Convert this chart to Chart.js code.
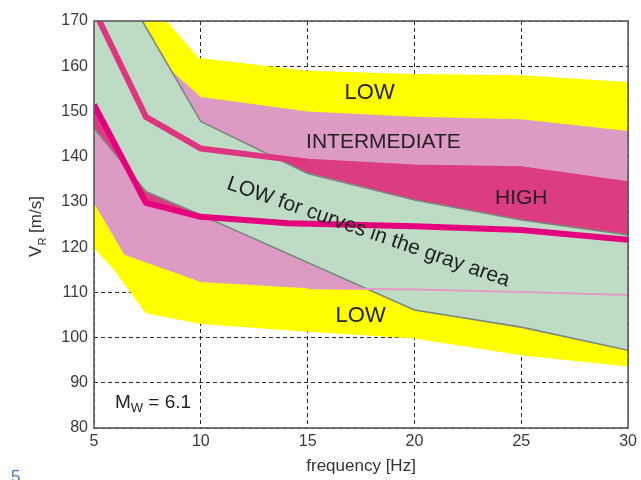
<!DOCTYPE html>
<html><head><meta charset="utf-8">
<script src="https://cdn.jsdelivr.net/npm/chart.js@4.4.1/dist/chart.umd.min.js"></script>
<style>html,body{margin:0;padding:0;background:#fff}canvas{display:block}</style>
</head><body>
<canvas id="c" width="641" height="480"></canvas>
<script>
// ---- data (frequency [Hz], V_R [m/s]) ----
const xTicks = [5, 10, 15, 20, 25, 30];
const yTicks = [80, 90, 100, 110, 120, 130, 140, 150, 160, 170];
const lowTopEdge      = [[5,188.6],[8.4,170],[9.9,161.8],[15,159],[20,158.3],[25,158],[30,156.5]];
const lowBottomEdge   = [[5,119.8],[5.95,114.9],[7.43,105.4],[10,103],[15,101.3],[20,99.8],[25,96.1],[30,93.6]];
const interTopEdge    = [[5,174],[8.5,159.5],[10,153.2],[15,150],[20,148.8],[25,148.3],[30,145.7]];
const interBottomEdge = [[5,129.7],[6.42,118.3],[10,112.3],[15,110.9],[20,110.6],[25,110.1],[30,109.4]];
const highCurve       = [[5,172.5],[7.43,148.8],[10,141.8],[14.1,139.4],[15,138.9],[20,137.6],[25,137.2],[30,133.9]];
const lowCurve        = [[5,151.5],[7.43,129.8],[10,126.7],[14.1,125.3],[20,124.6],[25,123.8],[30,121.6]];
const grayUpper       = [[5,188.3],[7.26,170],[10,147.8],[15,136.3],[20,130.4],[25,126],[30,122.7]];
const grayLower       = [[5,146.3],[7.43,132.3],[10,127.1],[15,116.6],[20,106.1],[25,102.3],[30,97.2]];

const FONT = '"Liberation Sans", Arial, Helvetica, sans-serif';
const C = {
  yellow: '#ffff00', pink: '#dd9bc4', high: '#dc3c80', green: '#bedcc5',
  gray: '#7d8882', curveHigh: '#df3580', curveLow: '#e5007e', thinPink: '#e39ac6'
};
const pts = a => a.map(([x, y]) => ({x, y}));

const ds = [];
function add(o) {
  const i = ds.length;
  ds.push(Object.assign({pointRadius: 0, pointHoverRadius: 0, borderWidth: 0,
    borderColor: 'rgba(0,0,0,0)', backgroundColor: 'rgba(0,0,0,0)', tension: 0,
    fill: false, clip: 0, order: 100 - i}, o));
  return i;
}
// yellow envelope
add({data: pts(lowTopEdge), fill: 1, backgroundColor: C.yellow});
add({data: pts(lowBottomEdge)});
// intermediate (pink)
add({data: pts(interTopEdge), fill: 3, backgroundColor: C.pink});
add({data: pts(interBottomEdge)});
// high (between the two curves)
add({data: pts(highCurve), fill: 5, backgroundColor: C.high, borderColor: C.high, borderWidth: 6});
add({data: pts(lowCurve)});
// gray area (green)
add({data: pts(grayUpper), fill: 7, backgroundColor: C.green});
add({data: pts(grayLower)});
// left wedge between lower curve and gray-area edge
add({data: pts(lowCurve.slice(0, 2)), fill: 9, backgroundColor: C.high});
add({data: pts(grayLower.slice(0, 2))});
// gray area edges
add({data: pts(grayUpper), borderColor: C.gray, borderWidth: 1.6});
add({data: pts(grayLower), borderColor: C.gray, borderWidth: 1.6});
// thin pink line inside gray area
add({data: pts(interBottomEdge.filter(p => p[0] >= 15)), borderColor: C.thinPink, borderWidth: 2});
// magenta curves
add({data: pts(highCurve.filter(p => p[0] <= 15)), borderColor: C.curveHigh, borderWidth: 6, borderJoinStyle: 'round'});
add({data: pts(lowCurve), borderColor: C.curveLow, borderWidth: 6, borderJoinStyle: 'round'});

const decor = {
  id: 'decor',
  afterDraw(chart) {
    const ctx = chart.ctx, a = chart.chartArea;
    const xs = chart.scales.x, ys = chart.scales.y;
    const X = v => xs.getPixelForValue(v), Y = v => ys.getPixelForValue(v);
    ctx.save();
    // frame
    ctx.strokeStyle = '#5a5a5a'; ctx.lineWidth = 1.6; ctx.setLineDash([]);
    ctx.strokeRect(a.left, a.top, a.right - a.left, a.bottom - a.top);
    // annotations
    ctx.fillStyle = '#222';
    ctx.textAlign = 'center'; ctx.textBaseline = 'middle';
    ctx.font = '22px ' + FONT;
    ctx.fillText('LOW', X(17.9), Y(154.0));
    ctx.font = '21px ' + FONT;
    ctx.fillText('INTERMEDIATE', X(18.55), Y(143.1));
    ctx.fillText('HIGH', X(25.0), Y(130.8));
    ctx.font = '22px ' + FONT;
    ctx.fillText('LOW', X(17.48), Y(104.7));
    ctx.font = '21px ' + FONT;
    ctx.save();
    ctx.translate(X(17.75), Y(122.1));
    ctx.rotate(19.2 * Math.PI / 180);
    ctx.textBaseline = 'alphabetic';
    ctx.fillText('LOW for curves in the gray area', 0, 0);
    ctx.restore();
    // M_W = 6.1
    ctx.textAlign = 'left'; ctx.textBaseline = 'alphabetic';
    let px = X(5.98), py = Y(84.35);
    ctx.font = '19px ' + FONT; ctx.fillText('M', px, py); px += ctx.measureText('M').width;
    ctx.font = '13px ' + FONT; ctx.fillText('W', px, py + 4); px += ctx.measureText('W').width;
    ctx.font = '19px ' + FONT; ctx.fillText(' = 6.1', px, py);
    // axis titles
    ctx.fillStyle = '#333';
    ctx.font = '17px ' + FONT; ctx.textAlign = 'center'; ctx.textBaseline = 'middle';
    ctx.fillText('frequency [Hz]', (a.left + a.right) / 2, 466);
    ctx.save();
    ctx.translate(41, (a.top + a.bottom) / 2 + 2);
    ctx.rotate(-Math.PI / 2);
    ctx.textAlign = 'left'; ctx.textBaseline = 'alphabetic';
    ctx.font = '17px ' + FONT; const w1 = ctx.measureText('V').width, w3 = ctx.measureText(' [m/s]').width;
    ctx.font = '11px ' + FONT; const w2 = ctx.measureText('R').width;
    let tx = -(w1 + w2 + w3) / 2;
    ctx.font = '17px ' + FONT; ctx.fillText('V', tx, 0); tx += w1;
    ctx.font = '11px ' + FONT; ctx.fillText('R', tx, 5); tx += w2;
    ctx.font = '17px ' + FONT; ctx.fillText(' [m/s]', tx, 0);
    ctx.restore();
    // figure label
    ctx.fillStyle = '#4a78c0'; ctx.font = '17px ' + FONT;
    ctx.textAlign = 'left'; ctx.textBaseline = 'top';
    ctx.fillText('5', 11, 469);
    ctx.restore();
  }
};

new Chart(document.getElementById('c'), {
  type: 'line',
  data: {datasets: ds},
  options: {
    responsive: false, animation: false, events: [],
    layout: {padding: {left: 0, right: 9, top: 21, bottom: 0}},
    plugins: {legend: {display: false}, tooltip: {enabled: false}, filler: {propagate: false}},
    scales: {
      x: {type: 'linear', min: 5, max: 30, z: 1,
        afterBuildTicks: s => { s.ticks = xTicks.map(v => ({value: v})); },
        afterFit: s => { s.height = 52; },
        ticks: {padding: 4, color: '#3a3a3a', font: {family: FONT, size: 16}, maxRotation: 0, autoSkip: false},
        grid: {color: '#2a2a2a', lineWidth: 1, drawTicks: false},
        border: {display: false, dash: [4, 3]}},
      y: {type: 'linear', min: 80, max: 170, z: 1,
        afterBuildTicks: s => { s.ticks = yTicks.map(v => ({value: v})); },
        afterFit: s => { s.width = 94; },
        ticks: {padding: 6, color: '#3a3a3a', font: {family: FONT, size: 16}, autoSkip: false},
        grid: {color: '#2a2a2a', lineWidth: 1, drawTicks: false},
        border: {display: false, dash: [4, 3]}}
    }
  },
  plugins: [decor]
});
</script>
</body></html>
